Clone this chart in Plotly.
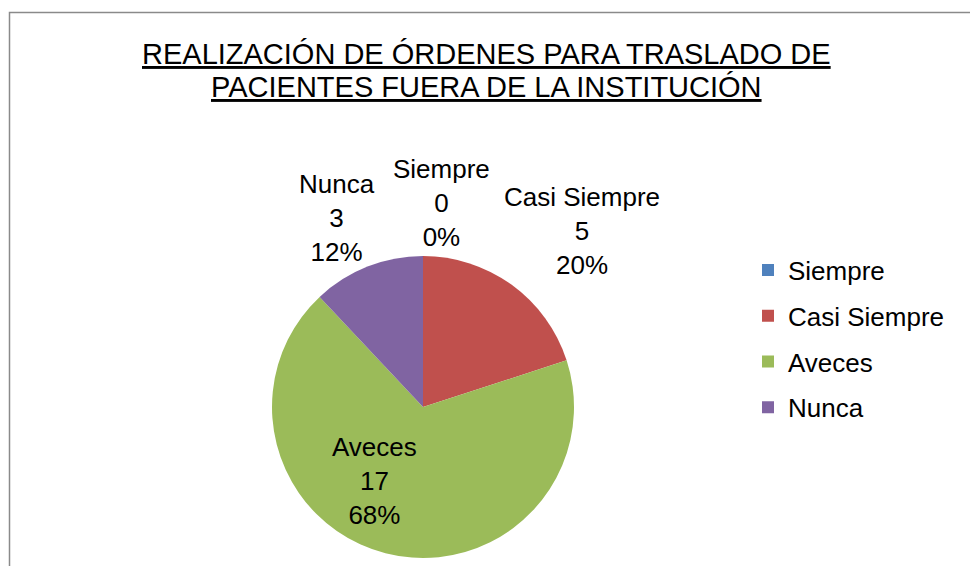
import plotly.graph_objects as go

labels = ["Siempre", "Casi Siempre", "Aveces", "Nunca"]
values = [0, 5, 17, 3]
colors = ["#4F81BD", "#C0504D", "#9BBB59", "#8064A2"]
title_lines = ["REALIZACIÓN DE ÓRDENES PARA TRASLADO DE", "PACIENTES FUERA DE LA INSTITUCIÓN"]

# label anchor positions (paper px: x, y from top)
label_pos = {"Siempre": (441, 203), "Casi Siempre": (582, 231), "Aveces": (374, 481), "Nunca": (337, 218)}

W, H = 970, 566
FONT = "Liberation Sans, Arial, sans-serif"
total = sum(values)

fig = go.Figure()
fig.add_trace(go.Pie(
    labels=labels, values=values, sort=False, direction="clockwise", rotation=0,
    marker=dict(colors=colors, line=dict(width=0)),
    textinfo="none", hoverinfo="label+value+percent", showlegend=False,
    domain=dict(x=[(423 - 151) / W, (423 + 151) / W], y=[1 - (407 + 151) / H, 1 - (407 - 151) / H]),
))

# legend entries (one group each so spacing matches)
for lab, col in zip(labels, colors):
    fig.add_trace(go.Scatter(
        x=[None], y=[None], mode="markers", name=lab, legendgroup=lab,
        marker=dict(symbol="square", size=12, color=col), showlegend=True, hoverinfo="skip",
    ))

annotations = []
for lab, val in zip(labels, values):
    pct = round(val / total * 100)
    px, py = label_pos[lab]
    annotations.append(dict(
        x=px / W, y=1 - py / H, xref="paper", yref="paper", xanchor="center", yanchor="middle",
        text=f"{lab}<br>{val}<br>{pct}%", showarrow=False, align="center",
        font=dict(family=FONT, size=26, color="#000000"),
    ))
for i, line in enumerate(title_lines):
    annotations.append(dict(
        x=486 / W, y=1 - (54 + 33 * i) / H, xref="paper", yref="paper", xanchor="center", yanchor="middle",
        text=f"<u>{line}</u>", showarrow=False,
        font=dict(family=FONT, size=29, color="#000000"),
    ))

fig.update_layout(
    width=W, height=H, margin=dict(l=0, r=0, t=0, b=0),
    paper_bgcolor="white", plot_bgcolor="white",
    xaxis=dict(visible=False), yaxis=dict(visible=False),
    showlegend=True,
    legend=dict(x=748 / W, xanchor="left", y=1 - 339 / H, yanchor="middle",
                font=dict(family=FONT, size=26, color="#000000"), tracegroupgap=9,
                bgcolor="rgba(0,0,0,0)"),
    annotations=annotations,
    shapes=[dict(type="rect", xref="paper", yref="paper", x0=9.5 / W, x1=1.2, y0=-0.2, y1=1 - 12.5 / H,
                 line=dict(color="#8a8a8a", width=1.5), fillcolor="rgba(0,0,0,0)", layer="below")],
)

fig.write_html("out.html", config={"displayModeBar": False},
               post_script="document.body.style.margin='0';document.body.style.overflow='hidden';")
